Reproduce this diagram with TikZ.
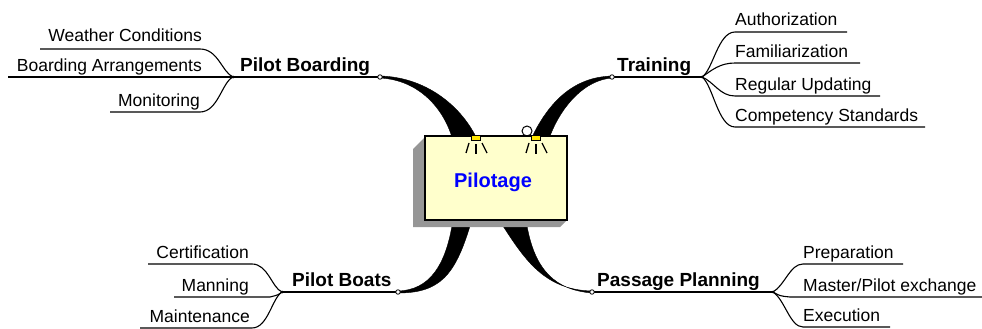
\documentclass[tikz,border=0pt]{standalone}
\usepackage{fontspec}
\setmainfont{Liberation Sans}
\definecolor{boxyellow}{RGB}{255,255,204}
\definecolor{shadowgray}{RGB}{150,150,150}
\definecolor{lampyellow}{RGB}{255,230,0}
\definecolor{titleblue}{RGB}{0,0,255}
\begin{document}
\begin{tikzpicture}[x=1pt,y=-1pt,
  sub/.style={inner sep=0pt, font=\fontsize{17.5}{20}\selectfont},
  topic/.style={inner sep=0pt, font=\fontsize{19}{22}\selectfont\bfseries},
  twig/.style={line width=1.1pt},
  stem/.style={line width=1.4pt},
  limb/.style={fill=black, draw=black, line width=0.4pt},
  endring/.style={circle, draw=black, fill=white, inner sep=0pt, minimum size=4.5pt, line width=0.8pt},
  ray/.style={line width=1.3pt}]
\useasboundingbox (0,0) rectangle (982,329);

% ---------- coordinates ----------
\coordinate (jPB) at (233,77);  \coordinate (ePB) at (380,77);
\coordinate (jTR) at (702,77);  \coordinate (eTR) at (612,77);
\coordinate (jBT) at (282,292); \coordinate (eBT) at (398,292);
\coordinate (jPP) at (773,292); \coordinate (ePP) at (592,292);

% ---------- thick branches ----------
\path[limb] (380,76) .. controls (425,77) and (460,105) .. (476,137)
  -- (453,141) .. controls (445,110) and (420,80) .. (380,78) -- cycle;
\path[limb] (612,76) .. controls (575,77) and (550,100) .. (532,137)
  -- (550,136) .. controls (562,105) and (585,80) .. (612,78) -- cycle;
\path[limb] (452,226) .. controls (445,265) and (430,290) .. (398,291)
  -- (398,293) .. controls (440,293) and (455,275) .. (470,226) -- cycle;
\path[limb] (503,226) .. controls (525,260) and (545,290) .. (592,291)
  -- (592,293) .. controls (555,290) and (535,270) .. (527,226) -- cycle;

% ---------- hook ----------
\draw[line width=1pt] (527,131) circle (5);

% ---------- central box ----------
\fill[shadowgray] (425,137) -- (413,149) -- (413,227) -- (560,227) -- (567,220) -- (425,220) -- cycle;
\node[draw=black, line width=1.2pt, fill=boxyellow, minimum width=142pt, minimum height=84pt, inner sep=0pt]
  (box) at (496,178) {};
\node[inner sep=0pt, text=titleblue, font=\fontsize{20}{24}\selectfont\bfseries] (title) at (493,182) {Pilotage};

% lamps
\foreach \lx/\nm in {476/lampL, 536/lampR}{
  \node[draw=black, fill=lampyellow, line width=0.8pt, minimum width=9pt, minimum height=4.5pt, inner sep=0pt] (\nm) at (\lx,138) {};
  \draw[ray] (\lx-7,143) -- (\lx-10,153);
  \draw[ray] (\lx,144) -- (\lx,154);
  \draw[ray] (\lx+6,143) -- (\lx+11,153);
}

% ---------- Pilot Boarding ----------
\node[topic, anchor=base west] (tPB) at (240,71) {Pilot Boarding};
\node[sub, anchor=base east] (tWC) at (202,42) {Weather Conditions};
\node[sub, anchor=base east] (tBA) at (202,71) {Boarding Arrangements};
\node[sub, anchor=base east] (tMO) at (200,106) {Monitoring};
\coordinate (uWC) at (200,49); \coordinate (uWC0) at (40,49);
\coordinate (uBA0) at (8,77);
\coordinate (uMO) at (200,112); \coordinate (uMO0) at (110,112);
\draw[stem] (uBA0) -- (jPB) -- (ePB);
\draw[twig] (jPB) .. controls (222,72) and (218,49) .. (uWC) -- (uWC0);
\draw[twig] (jPB) .. controls (222,82) and (218,112) .. (uMO) -- (uMO0);
\fill (jPB) circle (1.5);

% ---------- Training ----------
\node[topic, anchor=base west] (tTR) at (617,71) {Training};
\node[sub, anchor=base west] (tAU) at (735,26) {Authorization};
\node[sub, anchor=base west] (tFA) at (735,57) {Familiarization};
\node[sub, anchor=base west] (tRU) at (735,90) {Regular Updating};
\node[sub, anchor=base west] (tCS) at (735,121) {Competency Standards};
\coordinate (uAU) at (735,32);  \coordinate (uAU1) at (847,32);
\coordinate (uFA) at (735,63);  \coordinate (uFA1) at (860,63);
\coordinate (uRU) at (735,96);  \coordinate (uRU1) at (880,96);
\coordinate (uCS) at (735,127); \coordinate (uCS1) at (925,127);
\draw[stem] (eTR) -- (jTR);
\draw[twig] (jTR) .. controls (713,70) and (718,32) .. (uAU) -- (uAU1);
\draw[twig] (jTR) .. controls (712,70) and (720,63) .. (uFA) -- (uFA1);
\draw[twig] (jTR) .. controls (714,82) and (720,96) .. (uRU) -- (uRU1);
\draw[twig] (jTR) .. controls (713,85) and (718,127) .. (uCS) -- (uCS1);
\fill (jTR) circle (1.5);

% ---------- Pilot Boats ----------
\node[topic, anchor=base west] (tBT) at (292,286) {Pilot Boats};
\node[sub, anchor=base east] (tCE) at (249,258) {Certification};
\node[sub, anchor=base east] (tMA) at (249,291) {Manning};
\node[sub, anchor=base east] (tMT) at (250,322) {Maintenance};
\coordinate (uCE) at (252,264); \coordinate (uCE0) at (148,264);
\coordinate (uMA) at (270,297); \coordinate (uMA0) at (174,297);
\coordinate (uMT) at (252,328); \coordinate (uMT0) at (140,328);
\draw[stem] (jBT) -- (eBT);
\draw[twig] (jBT) .. controls (272,288) and (268,264) .. (uCE) -- (uCE0);
\draw[twig] (jBT) .. controls (278,295) .. (uMA) -- (uMA0);
\draw[twig] (jBT) .. controls (272,298) and (268,328) .. (uMT) -- (uMT0);
\fill (jBT) circle (1.5);

% ---------- Passage Planning ----------
\node[topic, anchor=base west] (tPP) at (597,286) {Passage Planning};
\node[sub, anchor=base west] (tPR) at (803,258) {Preparation};
\node[sub, anchor=base west] (tMP) at (803,291) {Master/Pilot exchange};
\node[sub, anchor=base west] (tEX) at (803,321) {Execution};
\coordinate (uPR) at (803,264); \coordinate (uPR1) at (903,264);
\coordinate (uMP) at (790,297); \coordinate (uMP1) at (982,297);
\coordinate (uEX) at (803,327); \coordinate (uEX1) at (890,327);
\draw[stem] (ePP) -- (jPP);
\draw[twig] (jPP) .. controls (785,285) and (790,264) .. (uPR) -- (uPR1);
\draw[twig] (jPP) .. controls (780,296) .. (uMP) -- (uMP1);
\draw[twig] (jPP) .. controls (785,300) and (790,327) .. (uEX) -- (uEX1);
\fill (jPP) circle (1.5);

% end rings
\node[endring] (rPB) at (ePB) {};
\node[endring] (rTR) at (eTR) {};
\node[endring] (rBT) at (eBT) {};
\node[endring] (rPP) at (ePP) {};
\end{tikzpicture}
\end{document}
